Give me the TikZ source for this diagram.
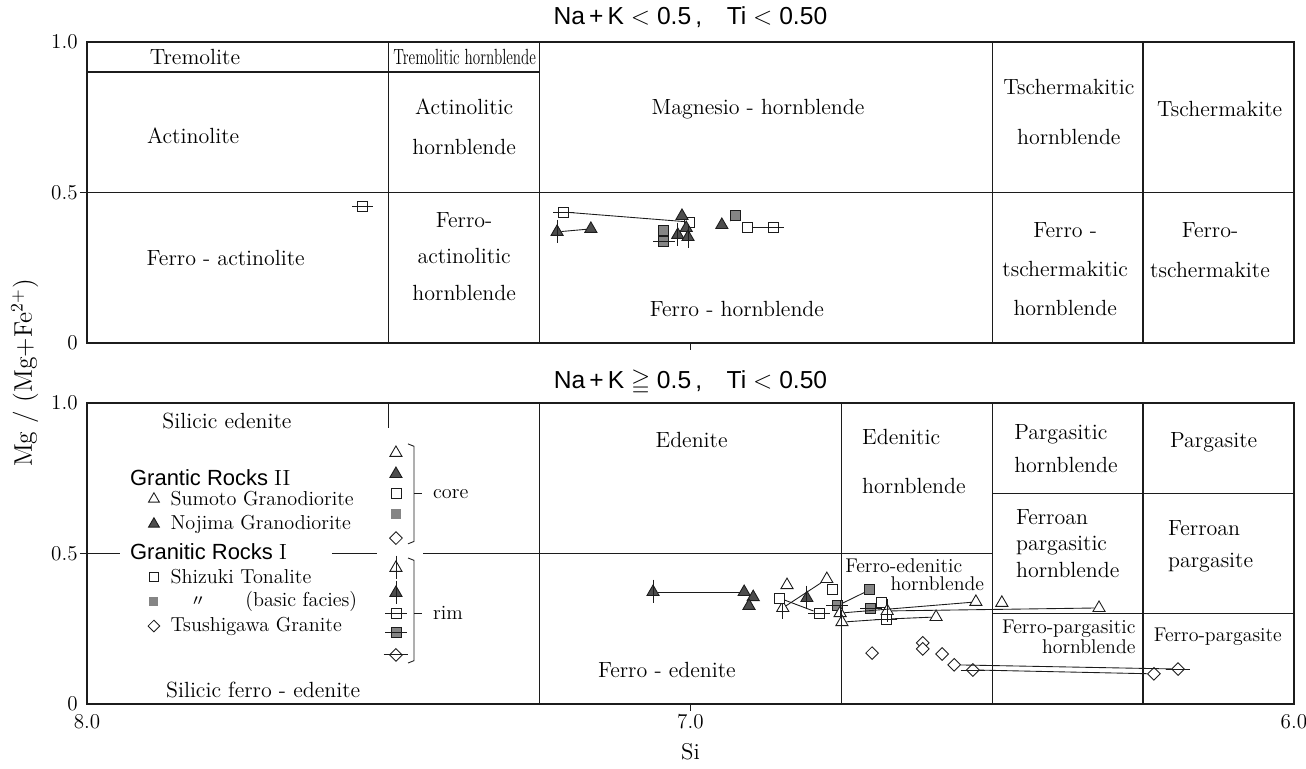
\documentclass[tikz,border=0pt]{standalone}
\usepackage{fontspec}
\setsansfont{Liberation Sans}
\newfontfamily\cjk{Noto Sans CJK JP}
\usepackage{amsmath,amssymb}
\definecolor{ink}{HTML}{1C1C1C}
\definecolor{tridark}{HTML}{4D4D4D}
\definecolor{sqgrey}{HTML}{858585}
\usetikzlibrary{shapes.geometric}
\tikzset{
  field/.style={font=\fontsize{12.5}{15}\selectfont, inner sep=0pt},
  fieldsm/.style={font=\fontsize{11.3}{13}\selectfont, inner sep=0pt},
  legtext/.style={font=\fontsize{11.5}{14}\selectfont, inner sep=0pt, anchor=west},
  ticklab/.style={font=\fontsize{12}{14}\selectfont, inner sep=1pt},
  paneltitle/.style={font=\sffamily\fontsize{14}{16}\selectfont},
  mk/.style={draw=ink, line width=0.5pt, inner sep=0pt},
  otri/.style={mk, regular polygon, regular polygon sides=3, minimum size=0.28cm, fill=white},
  ftri/.style={otri, fill=tridark},
  osq/.style={mk, rectangle, minimum size=0.2cm, fill=white},
  gsq/.style={osq, fill=sqgrey},
  odia/.style={mk, diamond, minimum size=0.26cm, fill=white},
  vrim/.style={append after command={([yshift=2.5pt]\tikzlastnode.north) edge[ink, line width=0.5pt] ([yshift=-4pt]\tikzlastnode.south)}},
  hrim/.style={append after command={([xshift=-3pt]\tikzlastnode.west) edge[ink, line width=0.5pt] ([xshift=3pt]\tikzlastnode.east)}},
  tie/.style={ink, line width=0.5pt},
  frame/.style={ink, line width=0.7pt},
}

\begin{document}
\begin{tikzpicture}[x=-12.07cm, y=6.02cm]
  \useasboundingbox (8.1442,-1.4153) rectangle (5.9801,1.1395);
  \node[rotate=90, font=\fontsize{14.5}{16}\selectfont] (ylab) at (8.103,-0.100) {Mg\,\,/\,\,(Mg+Fe$^{2+}$)};

  % upper panel
  \node[paneltitle] (ttop) at (7.0,1.083) {Na\,+\,K $<$ 0.5\,,\quad Ti $<$ 0.50};
  \draw[frame] (8,0) rectangle (6,1);
  \draw[frame] (8,0.9) -- (7.25,0.9);
  \draw[frame] (8.0116,0.5) -- (6,0.5);
  \foreach \si in {7.5,7.25,6.5,6.25}
    \draw[frame] (\si,0) -- (\si,1);
  \draw[frame] (7,0) -- (7,-0.025);
  \node[ticklab,anchor=east] (ya1) at (8.012,1) {1.0};
  \node[ticklab,anchor=east] (ya2) at (8.012,0.5) {0.5};
  \node[ticklab,anchor=east] (ya3) at (8.012,0) {0};

  \node[field] (trem) at (7.821,0.950) {Tremolite};
  \node[field] (tremh) at (7.374,0.950) {\scalebox{0.69}[1]{Tremolitic hornblende}};
  \node[field] (actin) at (7.824,0.688) {Actinolite};
  \node[field,align=center] (actinh) at (7.375,0.718) {Actinolitic\\[7.8pt]hornblende};
  \node[field] (factin) at (7.770,0.282) {Ferro - actinolite};
  \node[field,align=center] (factinh) at (7.375,0.287) {Ferro-\\[5.8pt]actinolitic\\[5.8pt]hornblende};
  \node[field] (mghbl) at (6.888,0.777) {Magnesio - hornblende};
  \node[field] (fehbl) at (6.923,0.113) {Ferro - hornblende};
  \node[field,align=center] (tschh) at (6.373,0.767) {Tschermakitic\\[13.5pt]hornblende};
  \node[field] (tsch) at (6.123,0.777) {Tschermakite};
  \node[field,align=center] (ftschh) at (6.379,0.246) {Ferro -\\[7.2pt]tschermakitic\\[7.2pt]hornblende};
  \node[field,align=center] (ftsch) at (6.139,0.309) {Ferro-\\[7.8pt]tschermakite};

  % upper data
  \node[osq,hrim] (a1) at (7.543,0.455) {};
  \node[osq,hrim] (a2) at (7.210,0.435) {};
  \node[osq] (a3) at (7.002,0.402) {};
  \node[ftri,vrim] (a4) at (7.221,0.369) {};
  \node[ftri] (a5) at (7.165,0.379) {};
  \node[ftri] (a6) at (7.014,0.422) {};
  \node[ftri] (a7) at (7.007,0.382) {};
  \node[gsq] (a8) at (7.044,0.375) {};
  \node[gsq,hrim] (a9) at (7.044,0.336) {};
  \node[ftri,vrim] (a10) at (7.021,0.359) {};
  \node[ftri,vrim] (a11) at (7.004,0.352) {};
  \node[ftri] (a12) at (6.948,0.392) {};
  \node[gsq] (a13) at (6.926,0.425) {};
  \coordinate (a13s) at (6.934,0.405);
  \node[osq] (a14) at (6.906,0.385) {};
  \node[osq,hrim] (a15) at (6.863,0.385) {};
  \draw[tie] (a2) -- (a3);
  \draw[tie] (a4) -- (a5);
  \draw[tie] (a13) -- (a13s);
  \draw[tie] (a14) -- (a15);

  % lower panel
  \begin{scope}[yshift=-7.22cm]
    \node[paneltitle] (tbot) at (7.0,1.070) {Na\,+\,K $\geqq$ 0.5\,,\quad Ti $<$ 0.50};
    \draw[frame] (8,0) rectangle (6,1);
    \draw[frame] (7.5,1) -- (7.5,0.917);
    \foreach \si in {7.25,6.75,6.5,6.25}
      \draw[frame] (\si,0) -- (\si,1);
    \draw[frame] (8.0116,0.5) -- (7.945,0.5);
    \draw[frame] (7.594,0.5) -- (7.519,0.5);
    \draw[frame] (7.443,0.5) -- (6.5,0.5);
    \draw[frame] (6.5,0.7) -- (6,0.7);
    \draw[frame] (6.5,0.3) -- (6,0.3);
    \draw[frame] (7,0) -- (7,-0.025);
    \node[ticklab,anchor=east] (yb1) at (8.012,1) {1.0};
    \node[ticklab,anchor=east] (yb2) at (8.012,0.5) {0.5};
    \node[ticklab,anchor=east] (yb3) at (8.012,0) {0};
    \node[ticklab] (x8) at (8,-0.060) {8.0};
    \node[ticklab] (x7) at (7,-0.060) {7.0};
    \node[ticklab] (x6) at (6,-0.060) {6.0};
    \node[font=\fontsize{13}{15}\selectfont] (xlab) at (7,-0.159) {Si};

    \node[field] (sied) at (7.768,0.940) {Silicic edenite};
    \node[field] (sifed) at (7.708,0.047) {Silicic ferro - edenite};
    \node[field] (eden) at (6.998,0.877) {Edenite};
    \node[field] (feden) at (7.039,0.113) {Ferro - edenite};
    \node[field,align=left,anchor=west] (edh) at (6.716,0.806) {Edenitic\\[12.9pt]hornblende};
    \node[fieldsm,anchor=west] (fedh1) at (6.744,0.458) {Ferro-edenitic};
    \node[fieldsm,anchor=west] (fedh2) at (6.669,0.399) {hornblende};
    \node[field,align=left,anchor=west] (pgh) at (6.464,0.849) {Pargasitic\\[3.8pt]hornblende};
    \node[field] (pg) at (6.133,0.870) {Pargasite};
    \node[field,align=left,anchor=west] (fpgh) at (6.461,0.533) {Ferroan\\pargasitic\\hornblende};
    \node[field,align=left,anchor=west] (fpg) at (6.209,0.525) {Ferroan\\[3.2pt]pargasite};
    \node[fieldsm,align=right,anchor=east] (fepgh) at (6.262,0.223) {Ferro-pargasitic\\[-2pt]hornblende};
    \node[fieldsm] (fepg) at (6.126,0.223) {Ferro-pargasite};

    % legend
    \node[legtext,font=\sffamily\fontsize{12.5}{15}\selectfont] (grp2) at (7.929,0.751) {Grantic Rocks \textrm{II}};
    \node[otri,minimum size=0.25cm] (ksumo) at (7.889,0.681) {};
    \node[legtext] (lsumo) at (7.862,0.681) {Sumoto Granodiorite};
    \node[ftri,minimum size=0.25cm] (knoji) at (7.889,0.598) {};
    \node[legtext] (lnoji) at (7.862,0.598) {Nojima Granodiorite};
    \node[legtext,font=\sffamily\fontsize{12.5}{15}\selectfont] (grp1) at (7.929,0.505) {Granitic Rocks \textrm{I}};
    \node[osq,minimum size=0.18cm] (kshiz) at (7.889,0.422) {};
    \node[legtext] (lshiz) at (7.862,0.422) {Shizuki Tonalite};
    \node[gsq,draw=none,minimum size=0.18cm] (kbas) at (7.889,0.339) {};
    \node[inner sep=0pt,font=\cjk\fontsize{9}{10}\selectfont] (ldit) at (7.816,0.339) {〃};
    \node[legtext] (lbas) at (7.738,0.339) {(basic facies)};
    \node[odia,minimum size=0.24cm] (ktsu) at (7.889,0.259) {};
    \node[legtext] (ltsu) at (7.862,0.259) {Tsushigawa Granite};

    \node[otri] (c1) at (7.488,0.834) {};
    \node[ftri] (c2) at (7.488,0.764) {};
    \node[osq] (c3) at (7.488,0.698) {};
    \node[gsq,draw=none] (c4) at (7.488,0.631) {};
    \node[odia] (c5) at (7.488,0.551) {};
    \node[otri,vrim] (r1) at (7.488,0.452) {};
    \node[ftri,vrim] (r2) at (7.488,0.369) {};
    \node[osq,hrim] (r3) at (7.488,0.302) {};
    \node[gsq,hrim] (r4) at (7.488,0.236) {};
    \node[odia,hrim] (r5) at (7.488,0.163) {};
    \draw[tie] (7.468,0.864) -- (7.458,0.856) -- (7.458,0.540) -- (7.468,0.532);
    \draw[tie] (7.458,0.698) -- (7.445,0.698);
    \draw[tie] (7.468,0.485) -- (7.458,0.477) -- (7.458,0.144) -- (7.468,0.136);
    \draw[tie] (7.458,0.302) -- (7.445,0.302);
    \node[legtext] (lcore) at (7.427,0.698) {core};
    \node[legtext] (lrim) at (7.427,0.302) {rim};

    % lower data
    \node[ftri,vrim] (b1) at (7.062,0.372) {};
    \node[ftri] (b2) at (6.911,0.372) {};
    \node[ftri] (b3) at (6.896,0.355) {};
    \node[ftri] (b4) at (6.903,0.326) {};
    \node[otri] (b5) at (6.840,0.395) {};
    \node[otri,vrim] (b6) at (6.847,0.319) {};
    \node[otri] (b7) at (6.774,0.415) {};
    \node[ftri,vrim] (b8) at (6.807,0.352) {};
    \node[osq] (b9) at (6.853,0.352) {};
    \node[osq,hrim] (b10) at (6.787,0.302) {};
    \node[osq] (b11) at (6.764,0.382) {};
    \node[gsq,hrim] (b12) at (6.757,0.326) {};
    \node[gsq] (b13) at (6.703,0.379) {};
    \node[otri,vrim] (b14) at (6.752,0.302) {};
    \node[otri] (b15) at (6.527,0.339) {};
    \node[otri,vrim] (b16) at (6.749,0.272) {};
    \node[osq,hrim] (b17) at (6.676,0.282) {};
    \node[otri] (b18) at (6.593,0.289) {};
    \node[gsq,hrim] (b19) at (6.701,0.319) {};
    \node[osq] (b20) at (6.683,0.336) {};
    \node[otri,vrim] (b21) at (6.674,0.309) {};
    \node[otri] (b22) at (6.323,0.319) {};
    \node[otri] (b23) at (6.484,0.336) {};
    \node[odia] (b24) at (6.699,0.169) {};
    \node[odia] (b25) at (6.615,0.203) {};
    \node[odia] (b26) at (6.615,0.183) {};
    \node[odia] (b27) at (6.583,0.166) {};
    \node[odia] (b28) at (6.563,0.130) {};
    \node[odia,hrim] (b29) at (6.192,0.116) {};
    \node[odia,hrim] (b30) at (6.532,0.113) {};
    \node[odia] (b31) at (6.232,0.100) {};
    \draw[tie] (b1) -- (b2);
    \draw[tie] (b6) -- (b7);
    \draw[tie] (b9) -- (b10);
    \draw[tie] (b12) -- (b13);
    \draw[tie] (b14) -- (b15);
    \draw[tie] (b16) -- (b17) -- (b18);
    \draw[tie] (b21) -- (b22);
    \draw[tie] (b28) -- (b29);
    \draw[tie] (b30) -- (b31);
  \end{scope}
\end{tikzpicture}
\end{document}
